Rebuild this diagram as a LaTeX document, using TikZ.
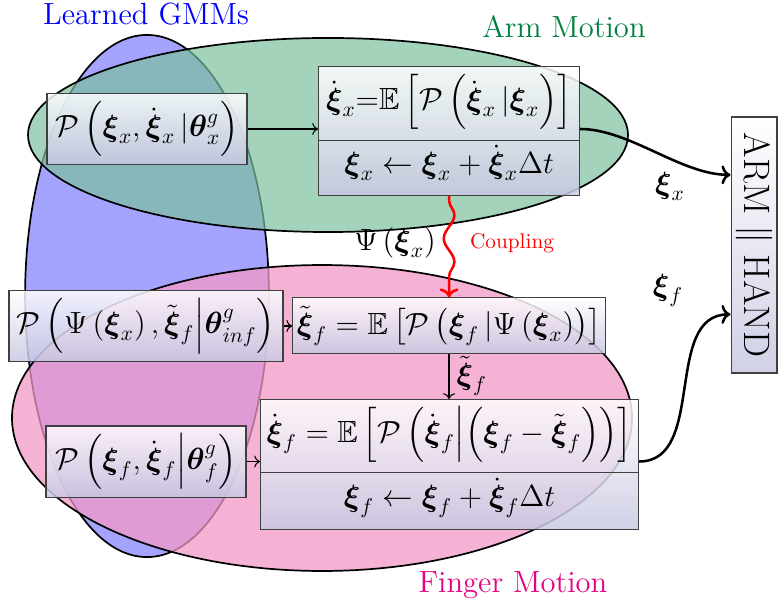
\documentclass[tikz,border=0pt]{standalone}
\usepackage{amsmath}
\usepackage{amsfonts}
\usepackage{amssymb}
\usepackage{tikz}
\usepackage{xcolor}
\usetikzlibrary{arrows.meta, calc, positioning, shapes.multipart, decorations.pathmorphing}

\definecolor{gmmblue}{RGB}{164,164,255}
\definecolor{armgreen}{RGB}{124,192,157}
\definecolor{fingerpink}{RGB}{242,152,198}
\definecolor{armtitle}{RGB}{0,128,64}
\definecolor{fingertitle}{RGB}{230,0,130}
\definecolor{boxbot}{RGB}{200,200,226}

\newcommand{\bxi}{\boldsymbol{\xi}}
\newcommand{\bth}{\boldsymbol{\theta}}

\begin{document}
\begin{tikzpicture}[x=0.47pt, y=-0.47pt, line width=0.8pt,
    mathbox/.style={draw=black!75, line width=0.5pt, top color=white, bottom color=boxbot,
        fill opacity=0.85, text opacity=1, font=\Large, inner sep=2pt},
    splitbox/.style={mathbox, rectangle split, rectangle split parts=2, rectangle split draw splits},
    thinarrow/.style={->, line width=0.5pt},
    outarrow/.style={->, line width=1.2pt}]
    \useasboundingbox (0,0) rectangle (778,608);

    % the three groups
    \filldraw[fill=gmmblue] (147,296) ellipse [x radius=57.3pt, y radius=122.7pt];
    \filldraw[fill=armgreen, fill opacity=0.7] (328,135) ellipse [x radius=141pt, y radius=45.6pt];
    \filldraw[fill=fingerpink, fill opacity=0.75] (322,418) ellipse [x radius=145.7pt, y radius=71.9pt];

    \node[text=blue, font=\Large] (gmmtitle) at (146,14) {Learned GMMs};
    \node[text=armtitle, font=\Large] (armtitle) at (564,27) {Arm Motion};
    \node[text=fingertitle, font=\Large] (fingertitle) at (513,585) {Finger Motion};

    % arm
    \node[mathbox, minimum width=94pt, minimum height=33.8pt] (pxarm) at (147,129)
        {$\mathcal{P}\left(\bxi_x,\dot{\bxi}_x\,|\bth^g_x\right)$};
    \node[splitbox, anchor=north west, minimum width=122.7pt, inner ysep=0pt] (arm) at (318,66)
        {\rule[-14.5pt]{0pt}{34.3pt}$\dot{\bxi}_x{=}\mathbb{E}\left[\mathcal{P}\left(\dot{\bxi}_x\,|\bxi_x\right)\right]$
         \nodepart{two}\rule[-10pt]{0pt}{25.4pt}$\bxi_x\leftarrow\bxi_x+\dot{\bxi}_x\Delta t$};

    % finger
    \node[mathbox, minimum width=128.8pt, minimum height=33.8pt] (psi) at (146,326)
        {$\mathcal{P}\left(\Psi\left(\bxi_x\right),\tilde{\bxi}_f\middle|\bth^g_{inf}\right)$};
    \node[mathbox, minimum width=142pt, minimum height=25.9pt] (xit) at (449,325.5)
        {$\tilde{\bxi}_f=\mathbb{E}\left[\mathcal{P}\left(\bxi_f\,|\Psi\left(\bxi_x\right)\right)\right]$};
    \node[mathbox, minimum width=94pt, minimum height=33.4pt] (pxfin) at (146,461.5)
        {$\mathcal{P}\left(\bxi_f,\dot{\bxi}_f\middle|\bth^g_f\right)$};
    \node[splitbox, anchor=north west, minimum width=177.7pt, inner ysep=0pt] (fin) at (260,399)
        {\rule[-14pt]{0pt}{33.8pt}$\dot{\bxi}_f=\mathbb{E}\left[\mathcal{P}\left(\dot{\bxi}_f\middle|\left(\bxi_f-\tilde{\bxi}_f\right)\right)\right]$
         \nodepart{two}\rule[-10.5pt]{0pt}{26.3pt}$\bxi_f\leftarrow\bxi_f+\dot{\bxi}_f\Delta t$};

    % robot
    \node[mathbox, font=\LARGE, rotate=-90, minimum width=120.3pt, minimum height=21.6pt, inner ysep=0pt]
        (robot) at (754,245) {ARM $\parallel$ HAND};

    \draw[thinarrow] (pxarm.east) -- (pxarm.east -| arm.west);
    \draw[thinarrow] (psi.east) -- (psi.east -| xit.west);
    \draw[thinarrow] (xit.south) -- (xit.south |- fin.north) node[midway, right, font=\Large] {$\tilde{\bxi}_f$};
    \draw[thinarrow] (pxfin.east) -- (pxfin.east -| fin.west);

    % coupling
    \draw[red, line width=1.2pt, ->, decorate,
        decoration={snake, amplitude=2.5pt, segment length=22pt, pre length=2pt, post length=9pt}]
        (arm.south) -- (arm.south |- xit.north);
    \node[font=\Large] (psilbl) at (395,243) {$\Psi\left(\bxi_x\right)$};
    \node[text=red] (couplbl) at (512,243) {Coupling};

    \draw[outarrow] (arm.east |- pxarm.east) to[out=0, in=180, looseness=0.8]
        ($(robot.south west)!0.227!(robot.south east)$);
    \draw[outarrow] (fin.east |- pxfin.east) to[out=0, in=180]
        ($(robot.south west)!0.77!(robot.south east)$);
    \node[font=\Large] (xilbl) at (670,186) {$\bxi_x$};
    \node[font=\Large] (xflbl) at (668,290) {$\bxi_f$};
\end{tikzpicture}
\end{document}
